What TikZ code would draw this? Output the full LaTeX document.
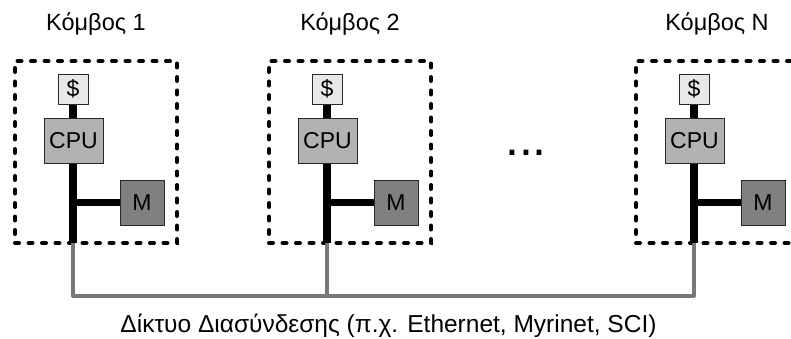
\documentclass[tikz,border=0pt]{standalone}
\usepackage{fontspec}
\setmainfont{Liberation Sans}
\definecolor{cachefill}{RGB}{232,232,232}
\definecolor{cpufill}{RGB}{178,178,178}
\definecolor{memfill}{RGB}{128,128,128}
\definecolor{netgray}{RGB}{120,120,120}
\definecolor{edge}{RGB}{40,40,40}
\tikzset{
  frame/.style={draw=black, line width=4pt, dash pattern=on 4pt off 9.5pt, line cap=round, minimum width=162pt, minimum height=182pt, inner sep=0pt},
  cachebox/.style={draw=edge, line width=0.8pt, fill=cachefill, minimum width=30pt, minimum height=30pt, inner sep=0pt, font=\fontsize{23}{24}\selectfont},
  cpubox/.style={draw=edge, line width=0.8pt, fill=cpufill, minimum width=59pt, minimum height=45pt, inner sep=0pt, font=\fontsize{23}{24}\selectfont},
  membox/.style={draw=edge, line width=0.8pt, fill=memfill, minimum width=44pt, minimum height=45pt, inner sep=0pt, font=\fontsize{23}{24}\selectfont},
  bus/.style={draw=black, line width=8pt},
  hbus/.style={draw=black, line width=7pt},
  net/.style={draw=netgray, line width=4pt, line join=round},
  title/.style={anchor=base, inner sep=0pt, font=\fontsize{23.5}{24}\selectfont}
}
\begin{document}
\begin{tikzpicture}[x=1pt,y=-1pt]
\clip (0,0) rectangle (791,339);
\foreach \i/\dx/\t in {1/0/Κόμβος 1, 2/254/Κόμβος 2, N/621/Κόμβος N}{
  \node[title] (t\i) at (96+\dx,31) {\t};
  \node[frame] (f\i) at (96+\dx,152) {};
  \coordinate (b\i) at (73+\dx,243);
  \coordinate (n\i) at (73+\dx,296);
  \node[cachebox] (c\i) at (73+\dx,89) {\$};
  \node[cpubox] (p\i) at (73.5+\dx,140.5) {CPU};
  \node[membox] (m\i) at (142+\dx,202.5) {M};
  \draw[bus] (c\i.south) -- (c\i.south |- p\i.north);
  \draw[bus] (c\i.south |- p\i.south) -- (b\i);
  \draw[hbus] (b\i |- m\i.west) -- (m\i.west);
  \node[cachebox] at (c\i) {\$};
  \node[cpubox] at (p\i) {CPU};
  \node[membox] at (m\i) {M};
}
\draw[net] (b1) -- (n1) -- (nN) -- (bN);
\draw[net] (b2) -- (n2);
\node[anchor=base, inner sep=0pt, font=\fontsize{50}{50}\selectfont] (dots) at (526,155) {...};
\node[anchor=base, inner sep=0pt, font=\fontsize{24.5}{26}\selectfont] (lbl) at (388.5,332) {Δίκτυο Διασύνδεσης (π.χ. Ethernet, Myrinet, SCI)};
\end{tikzpicture}
\end{document}
